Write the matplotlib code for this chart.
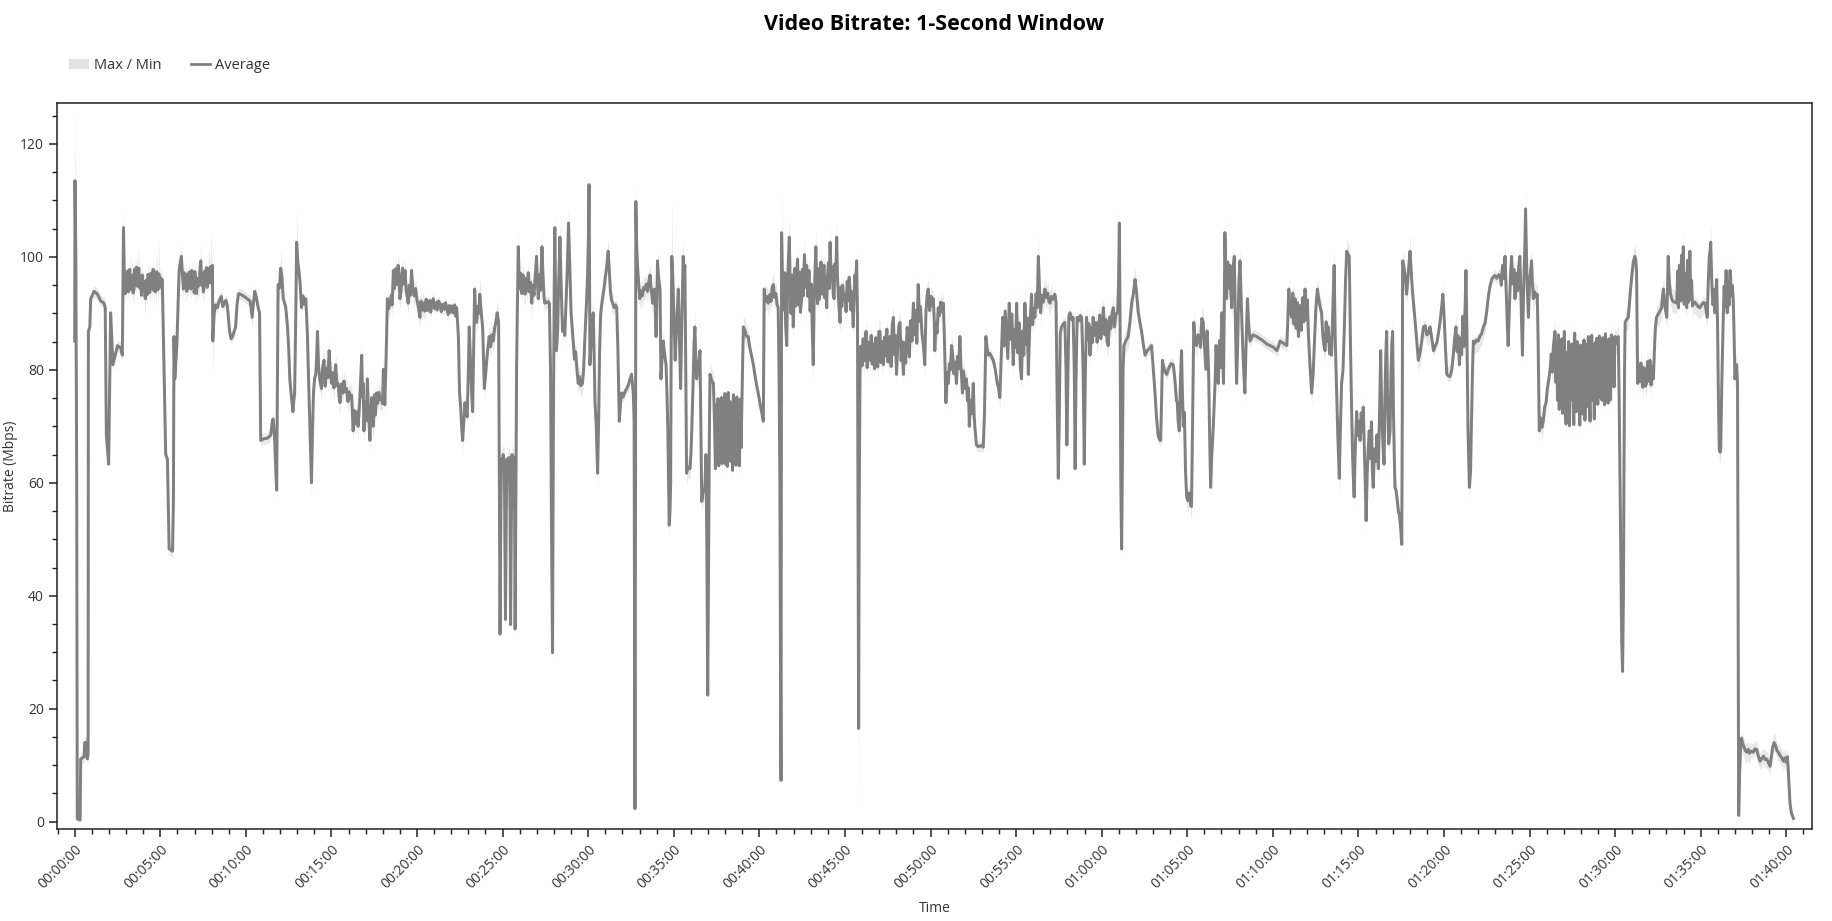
import numpy as np
import matplotlib
matplotlib.use("Agg")
import matplotlib.pyplot as plt
from matplotlib.ticker import MultipleLocator, FuncFormatter
from matplotlib.patches import Patch
from matplotlib.lines import Line2D

# ---------------- data ----------------
time_s = [
    0, 1, 4, 7, 9, 19, 21, 33, 35, 42,
    44, 47, 48, 53, 56, 68, 80, 91, 103, 107,
    111, 119, 126, 134, 140, 150, 162, 167, 171, 174,
    177, 179, 182, 185, 188, 190, 193, 196, 199, 202,
    205, 208, 211, 214, 217, 220, 223, 225, 228, 231,
    234, 237, 240, 243, 246, 248, 251, 254, 257, 260,
    263, 266, 269, 272, 275, 278, 281, 284, 287, 289,
    292, 295, 298, 301, 304, 307, 313, 319, 325, 331,
    343, 346, 348, 351, 358, 362, 366, 370, 374, 378,
    381, 384, 387, 390, 393, 395, 398, 401, 404, 407,
    410, 413, 416, 419, 421, 424, 427, 430, 433, 436,
    439, 442, 445, 448, 451, 453, 456, 459, 462, 465,
    468, 471, 474, 477, 480, 483, 484, 489, 494, 500,
    507, 514, 519, 524, 530, 535, 543, 548, 553, 559,
    564, 569, 574, 584, 594, 604, 615, 622, 627, 631,
    637, 643, 648, 652, 663, 675, 687, 692, 695, 698,
    701, 705, 708, 711, 713, 718, 722, 726, 731, 736,
    740, 746, 750, 754, 760, 765, 768, 771, 775, 778,
    782, 786, 790, 795, 800, 805, 810, 813, 816, 820,
    825, 830, 834, 837, 841, 845, 848, 851, 855, 859,
    865, 869, 874, 878, 882, 887, 892, 896, 900, 904,
    909, 915, 919, 923, 927, 930, 935, 941, 944, 948,
    953, 958, 962, 966, 971, 976, 980, 985, 990, 994,
    998, 1002, 1006, 1009, 1011, 1014, 1018, 1022, 1026, 1030,
    1035, 1038, 1041, 1044, 1047, 1051, 1054, 1058, 1062, 1066,
    1071, 1076, 1079, 1082, 1085, 1087, 1090, 1093, 1096, 1100,
    1105, 1110, 1113, 1117, 1121, 1125, 1129, 1134, 1137, 1140,
    1144, 1149, 1153, 1158, 1162, 1166, 1169, 1173, 1177, 1181,
    1185, 1190, 1195, 1199, 1204, 1210, 1214, 1218, 1222, 1227,
    1232, 1236, 1239, 1244, 1248, 1253, 1257, 1262, 1267, 1271,
    1275, 1280, 1285, 1290, 1295, 1300, 1304, 1309, 1313, 1318,
    1322, 1327, 1332, 1336, 1339, 1342, 1345, 1349, 1353, 1356,
    1360, 1364, 1368, 1372, 1376, 1380, 1383, 1387, 1391, 1395,
    1399, 1402, 1405, 1409, 1413, 1417, 1420, 1425, 1430, 1433,
    1436, 1440, 1445, 1449, 1453, 1458, 1462, 1467, 1472, 1477,
    1481, 1486, 1491, 1494, 1496, 1499, 1502, 1506, 1510, 1513,
    1516, 1520, 1523, 1525, 1528, 1531, 1533, 1536, 1539, 1541,
    1544, 1547, 1549, 1552, 1555, 1558, 1561, 1564, 1568, 1572,
    1575, 1579, 1582, 1586, 1590, 1594, 1598, 1602, 1606, 1610,
    1614, 1619, 1622, 1625, 1629, 1633, 1638, 1641, 1645, 1648,
    1652, 1656, 1660, 1664, 1668, 1671, 1675, 1678, 1681, 1683,
    1686, 1689, 1693, 1697, 1701, 1705, 1710, 1714, 1718, 1722,
    1727, 1731, 1735, 1740, 1744, 1748, 1752, 1756, 1761, 1765,
    1769, 1774, 1780, 1784, 1788, 1794, 1798, 1801, 1803, 1805,
    1806, 1810, 1814, 1818, 1821, 1824, 1828, 1833, 1837, 1840,
    1844, 1849, 1855, 1860, 1865, 1870, 1874, 1878, 1882, 1886,
    1891, 1896, 1900, 1904, 1909, 1913, 1917, 1922, 1928, 1935,
    1940, 1946, 1952, 1955, 1958, 1961, 1964, 1966, 1967, 1970,
    1973, 1976, 1981, 1986, 1990, 1995, 1999, 2004, 2008, 2013,
    2017, 2021, 2026, 2029, 2032, 2035, 2038, 2041, 2043, 2047,
    2052, 2055, 2059, 2063, 2068, 2073, 2076, 2079, 2082, 2084,
    2087, 2089, 2091, 2093, 2096, 2098, 2101, 2105, 2110, 2116,
    2120, 2124, 2128, 2133, 2136, 2139, 2142, 2145, 2150, 2157,
    2160, 2163, 2168, 2171, 2174, 2177, 2180, 2186, 2192, 2195,
    2198, 2203, 2209, 2213, 2216, 2219, 2222, 2225, 2227, 2233,
    2239, 2243, 2246, 2249, 2252, 2255, 2258, 2261, 2264, 2267,
    2270, 2273, 2276, 2279, 2282, 2285, 2288, 2291, 2294, 2297,
    2300, 2303, 2306, 2309, 2312, 2315, 2318, 2321, 2324, 2327,
    2330, 2333, 2336, 2338, 2341, 2344, 2350, 2355, 2361, 2366,
    2372, 2379, 2385, 2390, 2396, 2403, 2409, 2414, 2417, 2421,
    2426, 2431, 2436, 2441, 2445, 2449, 2453, 2458, 2462, 2466,
    2469, 2472, 2474, 2476, 2477, 2478, 2481, 2484, 2486, 2489,
    2492, 2496, 2499, 2502, 2505, 2508, 2511, 2515, 2519, 2522,
    2525, 2528, 2531, 2534, 2537, 2541, 2544, 2548, 2551, 2554,
    2558, 2562, 2566, 2570, 2574, 2578, 2582, 2586, 2589, 2592,
    2595, 2598, 2601, 2604, 2607, 2610, 2613, 2616, 2620, 2623,
    2627, 2630, 2633, 2636, 2639, 2642, 2645, 2648, 2651, 2655,
    2659, 2662, 2665, 2668, 2671, 2674, 2677, 2680, 2683, 2686,
    2689, 2692, 2696, 2700, 2704, 2708, 2712, 2715, 2718, 2721,
    2725, 2729, 2732, 2735, 2738, 2741, 2744, 2746, 2748, 2750,
    2753, 2756, 2760, 2764, 2767, 2770, 2774, 2778, 2781, 2785,
    2788, 2792, 2796, 2800, 2804, 2808, 2811, 2815, 2819, 2823,
    2826, 2830, 2835, 2839, 2843, 2847, 2851, 2855, 2858, 2862,
    2866, 2870, 2873, 2877, 2881, 2885, 2889, 2893, 2897, 2901,
    2905, 2909, 2913, 2918, 2922, 2926, 2930, 2935, 2940, 2944,
    2948, 2952, 2957, 2961, 2965, 2970, 2975, 2980, 2984, 2988,
    2992, 2997, 3002, 3006, 3010, 3013, 3015, 3019, 3023, 3027,
    3031, 3036, 3040, 3045, 3049, 3052, 3054, 3058, 3062, 3066,
    3070, 3074, 3078, 3082, 3087, 3091, 3095, 3099, 3103, 3107,
    3112, 3116, 3121, 3126, 3130, 3133, 3136, 3140, 3145, 3150,
    3153, 3156, 3161, 3167, 3173, 3179, 3185, 3189, 3194, 3198,
    3202, 3208, 3214, 3220, 3227, 3234, 3238, 3243, 3248, 3253,
    3257, 3262, 3267, 3271, 3276, 3280, 3285, 3290, 3294, 3298,
    3302, 3306, 3311, 3315, 3319, 3323, 3327, 3331, 3335, 3339,
    3343, 3347, 3351, 3354, 3358, 3362, 3366, 3370, 3374, 3378,
    3382, 3386, 3390, 3395, 3401, 3406, 3411, 3415, 3419, 3424,
    3430, 3436, 3440, 3444, 3448, 3451, 3455, 3459, 3465, 3471,
    3475, 3478, 3482, 3485, 3489, 3495, 3500, 3504, 3507, 3510,
    3514, 3520, 3525, 3530, 3535, 3539, 3543, 3547, 3551, 3555,
    3559, 3563, 3567, 3570, 3575, 3580, 3584, 3588, 3593, 3597,
    3602, 3606, 3611, 3615, 3619, 3623, 3628, 3632, 3637, 3641,
    3645, 3650, 3656, 3659, 3662, 3665, 3667, 3670, 3673, 3675,
    3678, 3685, 3693, 3699, 3705, 3711, 3717, 3722, 3728, 3734,
    3740, 3746, 3752, 3760, 3768, 3775, 3781, 3787, 3792, 3798,
    3803, 3807, 3810, 3813, 3818, 3823, 3828, 3835, 3843, 3851,
    3857, 3862, 3865, 3868, 3872, 3876, 3880, 3883, 3886, 3890,
    3894, 3898, 3903, 3908, 3912, 3915, 3919, 3923, 3928, 3933,
    3938, 3942, 3947, 3951, 3956, 3960, 3965, 3970, 3975, 3979,
    3982, 3986, 3989, 3993, 3998, 4001, 4005, 4009, 4013, 4017,
    4021, 4024, 4027, 4030, 4032, 4035, 4038, 4042, 4046, 4050,
    4053, 4056, 4060, 4065, 4069, 4073, 4077, 4081, 4085, 4088,
    4091, 4096, 4102, 4106, 4111, 4115, 4120, 4130, 4143, 4155,
    4167, 4178, 4190, 4202, 4214, 4220, 4225, 4237, 4249, 4252,
    4256, 4260, 4266, 4270, 4274, 4278, 4282, 4286, 4290, 4295,
    4300, 4305, 4309, 4313, 4317, 4321, 4325, 4330, 4336, 4341,
    4346, 4351, 4356, 4361, 4366, 4371, 4375, 4379, 4383, 4387,
    4391, 4395, 4399, 4403, 4406, 4410, 4415, 4419, 4424, 4428,
    4433, 4437, 4441, 4446, 4451, 4455, 4459, 4463, 4468, 4472,
    4476, 4480, 4485, 4489, 4494, 4499, 4503, 4506, 4510, 4514,
    4517, 4521, 4524, 4527, 4531, 4535, 4538, 4542, 4546, 4549,
    4552, 4556, 4561, 4565, 4570, 4574, 4578, 4582, 4586, 4590,
    4593, 4596, 4599, 4602, 4606, 4611, 4614, 4617, 4620, 4623,
    4626, 4628, 4632, 4636, 4640, 4644, 4648, 4652, 4654, 4655,
    4660, 4664, 4669, 4673, 4677, 4681, 4685, 4689, 4693, 4698,
    4704, 4710, 4716, 4722, 4728, 4734, 4740, 4746, 4751, 4757,
    4763, 4769, 4775, 4780, 4786, 4791, 4796, 4800, 4805, 4810,
    4816, 4821, 4827, 4832, 4837, 4842, 4846, 4850, 4854, 4858,
    4862, 4866, 4870, 4874, 4877, 4880, 4884, 4889, 4893, 4897,
    4900, 4903, 4908, 4914, 4920, 4926, 4932, 4938, 4944, 4950,
    4956, 4962, 4967, 4972, 4978, 4985, 4991, 4997, 5001, 5005,
    5009, 5014, 5018, 5022, 5025, 5029, 5033, 5037, 5041, 5045,
    5049, 5053, 5058, 5062, 5066, 5070, 5073, 5075, 5079, 5083,
    5086, 5090, 5093, 5096, 5100, 5104, 5107, 5110, 5113, 5118,
    5123, 5127, 5130, 5134, 5138, 5143, 5148, 5153, 5158, 5162,
    5167, 5172, 5176, 5180, 5184, 5189, 5192, 5195, 5198, 5201,
    5204, 5207, 5210, 5213, 5216, 5219, 5222, 5225, 5228, 5231,
    5234, 5237, 5240, 5243, 5246, 5249, 5252, 5255, 5258, 5261,
    5264, 5267, 5270, 5273, 5276, 5279, 5282, 5285, 5288, 5291,
    5294, 5297, 5300, 5303, 5306, 5309, 5312, 5315, 5318, 5321,
    5324, 5327, 5330, 5333, 5336, 5339, 5342, 5345, 5348, 5351,
    5354, 5357, 5360, 5363, 5366, 5369, 5372, 5375, 5378, 5381,
    5384, 5387, 5390, 5393, 5396, 5399, 5403, 5407, 5411, 5414,
    5417, 5420, 5423, 5426, 5429, 5431, 5433, 5435, 5440, 5446,
    5450, 5454, 5459, 5464, 5469, 5472, 5475, 5477, 5479, 5483,
    5487, 5490, 5493, 5497, 5501, 5506, 5510, 5514, 5518, 5522,
    5526, 5530, 5534, 5538, 5541, 5545, 5550, 5556, 5563, 5566,
    5569, 5575, 5581, 5584, 5586, 5590, 5594, 5598, 5603, 5609,
    5616, 5619, 5622, 5625, 5627, 5630, 5633, 5636, 5639, 5642,
    5645, 5648, 5651, 5654, 5657, 5660, 5662, 5665, 5668, 5671,
    5674, 5679, 5685, 5691, 5697, 5703, 5709, 5715, 5719, 5723,
    5726, 5730, 5733, 5735, 5739, 5743, 5747, 5750, 5753, 5756,
    5759, 5762, 5765, 5768, 5770, 5774, 5779, 5782, 5786, 5789,
    5791, 5793, 5796, 5799, 5803, 5806, 5810, 5814, 5817, 5820,
    5823, 5826, 5829, 5831, 5833, 5836, 5840, 5843, 5847, 5852,
    5856, 5861, 5866, 5871, 5876, 5884, 5890, 5896, 5902, 5908,
    5914, 5920, 5926, 5931, 5937, 5943, 5948, 5952, 5957, 5962,
    5967, 5972, 5977, 5983, 5990, 5995, 6000, 6004, 6008, 6013,
    6018, 6025,
]

avg_mbps = [
    85.1, 113.5, 100, 60, 0.5, 0.3, 11.1, 11.5, 14.0, 14.0,
    11.1, 12, 86.8, 87.6, 92.6, 93.9, 93.4, 92.2, 91.8, 91.0,
    68.4, 63.3, 90.1, 80.9, 82.2, 84.3, 83.8, 82.6, 105.2, 97,
    93.5, 96.0, 94, 97.5, 93.8, 95.1, 97.8, 94.2, 96.5, 96.8,
    93.6, 94.3, 97.9, 95, 98.2, 94.8, 97.3, 98.0, 94.5, 96.4,
    93.2, 96.8, 94.1, 95.6, 92.9, 92.6, 95.9, 93.3, 96.9, 96.0,
    93.7, 97.1, 94.4, 95.5, 97.8, 94.0, 96.6, 93.8, 97.4, 96.8,
    94.2, 97.0, 94.6, 96.3, 95.2, 96.0, 80.9, 65.0, 64.2, 48.3,
    47.9, 56.7, 85.9, 78.4, 84.3, 91, 97.6, 99, 100.1, 96.5,
    94.3, 97.2, 94.8, 96.9, 93.9, 96.0, 94.5, 97.3, 95.1, 94.3,
    97.6, 94.9, 96.8, 93.6, 97.4, 96.0, 93.5, 96.2, 94.8, 95.1,
    97.7, 99.3, 95.0, 97.0, 93.8, 94.3, 97.5, 95.2, 98.1, 94.6,
    97.3, 98.0, 95.4, 98.3, 96.2, 98.5, 85.1, 90.1, 91.5, 91.0,
    92.4, 93.0, 91.2, 91.8, 92.3, 91.4, 86.8, 85.5, 85.9, 86.8,
    87.6, 91.5, 93.5, 93.3, 93.0, 92.6, 92.2, 89.3, 92, 93.9,
    92.8, 91.0, 90.1, 67.5, 67.8, 67.9, 68.4, 70.5, 71.3, 70,
    67.5, 62, 58.7, 80, 95.1, 94.5, 98, 96.8, 92.6, 91.8,
    91.0, 87.6, 84, 78.4, 75, 72.6, 74.5, 75.9, 90, 102.6,
    99, 97.6, 95.4, 91.0, 93.1, 91.6, 92.6, 89.5, 85.9, 78,
    69.2, 60.0, 70, 75.9, 78.5, 79.2, 82, 86.8, 80.5, 78.2,
    76.7, 80.4, 81.7, 77.1, 80.3, 78.6, 83.4, 79.8, 77.6, 79.5,
    76.8, 80.9, 77.2, 77.6, 75.3, 74.2, 77.5, 75.9, 78.0, 76.2,
    76.7, 74.4, 76.1, 75.0, 75.5, 69.2, 72.8, 70.4, 72.6, 70.0,
    73.5, 77.8, 82.6, 75.2, 77.6, 69.2, 74.3, 71.0, 78.4, 72.2,
    67.5, 72.1, 75.1, 70.8, 70.0, 75.6, 72.0, 75.9, 74.1, 76.0,
    74.7, 75.1, 74.0, 80.1, 77.2, 73.8, 79, 85, 92.6, 90.8,
    91.8, 93.2, 91.5, 97.6, 94.4, 97.9, 95.1, 98.5, 96.7, 92.6,
    94.0, 98.0, 95.2, 97.6, 94.1, 92.8, 91.8, 95.0, 93.2, 97.6,
    94.5, 93.1, 94.4, 92.6, 91.3, 89.3, 92.2, 90.6, 91.8, 90.4,
    92.5, 90.5, 91.0, 92.3, 90.2, 92.0, 92.6, 90.8, 91.9, 90.6,
    92.2, 91.8, 90.3, 91.6, 90.7, 91.9, 91.0, 89.8, 91.4, 90.2,
    91.3, 90.1, 91.5, 89.5, 91.0, 88.6, 85.9, 76, 73.4, 70.2,
    67.5, 71, 74.2, 72.5, 71.7, 80, 87.6, 82, 76.5, 72.6,
    85, 94.3, 90.5, 88.4, 91.2, 90, 93.4, 90.1, 87.6, 82,
    76.7, 79, 82.1, 84.2, 85.9, 84.1, 86.2, 85.1, 87.4, 88.6,
    90.1, 88.4, 33.2, 55, 64.2, 63.6, 65.0, 63.8, 35.8, 55,
    64.2, 63.5, 64.5, 63.9, 34.9, 55, 65.0, 63.7, 64.5, 64.0,
    34.1, 60, 80.1, 92, 101.8, 96.3, 94.3, 97.1, 93.5, 96.8,
    94.1, 93.4, 96.2, 94.0, 97.2, 93.8, 95.5, 91.8, 95.0, 93.2,
    96.4, 100.1, 95.5, 92.6, 96.8, 94.1, 101.8, 97.5, 93.0, 91.8,
    92.0, 91.9, 92.1, 91.8, 80, 55, 29.9, 70, 95, 105.2,
    92.5, 83.4, 87, 96.2, 103.5, 95.5, 86.8, 88.7, 86.1, 91.5,
    98.2, 106.0, 99.3, 90.1, 87.3, 84.3, 81.9, 83.2, 79.8, 77.6,
    78.8, 77.2, 77.6, 80.1, 85.2, 91.8, 97, 104, 112.8, 95,
    80.9, 84.5, 89, 90.1, 82, 74.2, 70.5, 61.7, 72, 83.3,
    90.1, 92.3, 94.3, 96.4, 98.3, 101.0, 97.7, 93.8, 92.3, 91.8,
    91.0, 91.5, 91.0, 84, 70.9, 73.7, 75.9, 75.2, 76.0, 76.7,
    77.2, 78.3, 79.2, 77.5, 75.9, 71, 2.3, 60, 109.8, 102,
    98.4, 96.0, 92.6, 94.0, 93.1, 94.6, 94.3, 95.2, 93.9, 95.7,
    96.8, 94.3, 91.8, 93.6, 94.3, 91.2, 85.9, 93, 99.3, 96.1,
    94.3, 78.4, 82.2, 85.1, 82.7, 80.9, 76, 70, 59, 52.5,
    55.1, 60, 85, 100.1, 97.2, 94.3, 88, 81.7, 88.3, 94.3,
    85, 76.7, 88, 100.1, 97.1, 98.5, 80, 61.7, 62.8, 62.5,
    65, 69.2, 78, 84.5, 87.6, 82.4, 78.4, 80.6, 83.4, 70,
    56.7, 58.4, 59.2, 65.0, 48, 22.4, 45, 70, 79.2, 78.1,
    77.6, 70.4, 62.5, 73.8, 64.1, 74.9, 63.0, 72.6, 65.2, 75.1,
    63.4, 74.2, 64.6, 75.8, 63.3, 73.1, 62.9, 76.0, 64.0, 74.4,
    63.8, 72.9, 62.2, 75.6, 64.4, 73.7, 63.1, 75.2, 64.8, 72.4,
    63.0, 74.8, 66.2, 72, 80, 87.6, 86.9, 85.9, 85.9, 84.1,
    82.6, 80.9, 78.9, 77.4, 75.9, 73.8, 72.3, 70.9, 94.3, 92.2,
    93.0, 91.8, 93.3, 92.1, 94.5, 95.1, 92.8, 93.5, 91.6, 91.0,
    80, 60, 30, 7.3, 60, 104.3, 96.1, 90.6, 92.0, 97.2,
    88.1, 84.3, 94.6, 99.8, 103.5, 95.2, 90.0, 96.8, 87.6, 93.4,
    98.0, 91.3, 96.0, 99.6, 91.5, 97.3, 90.2, 92.6, 97.8, 93.1,
    100.4, 94.6, 98.5, 93.0, 97.6, 90.4, 95.2, 86.0, 80.9, 92,
    97.0, 101.8, 96.1, 91.7, 97.9, 92.5, 94.3, 99.1, 93.4, 97.6,
    98.5, 92.7, 96.3, 91.0, 96.6, 99.0, 94.4, 102.6, 95.8, 98.3,
    93.5, 92.6, 98.8, 96.0, 103.5, 96.4, 93.0, 90.5, 88.4, 94.7,
    91.2, 95.0, 92.4, 93.4, 90.3, 95.7, 92.2, 96.4, 94.3, 90.6,
    93.8, 87.6, 92.1, 96.8, 94.6, 99.3, 90, 50, 16.5, 55,
    80.9, 84.2, 80.7, 85.5, 81.6, 83.4, 86.8, 80.4, 84.9, 82.2,
    81.7, 86.1, 81.0, 84.6, 80.2, 85.7, 84.3, 80.5, 86.8, 86.8,
    81.3, 85.0, 80.9, 85.8, 82.5, 87.2, 81.4, 84.0, 85.9, 80.6,
    88.0, 89.3, 82.7, 86.1, 79.2, 84.4, 87.9, 88.4, 81.6, 85.0,
    79.2, 84.8, 81.2, 87.5, 86.0, 82.3, 88.7, 85.1, 91.8, 86.2,
    90.5, 84.7, 95.1, 88.6, 91.2, 86.4, 84.3, 80.9, 90.2, 93.1,
    94.3, 90.5, 93.0, 91.4, 92.6, 89, 83.4, 88.4, 86.5, 91.0,
    89.6, 92.0, 90.3, 91.8, 85, 78, 74.2, 79.5, 77.6, 81.1,
    80.0, 84.3, 82.5, 79.3, 81.4, 77.6, 82.4, 80.2, 85.9, 80.6,
    75.9, 79.8, 76.7, 78.4, 74.5, 76.8, 70.0, 74.6, 72.3, 77.6,
    72, 69.5, 66.7, 66.4, 66.5, 66.6, 66.3, 72, 85.9, 84.1,
    82.6, 82.9, 82.3, 81.7, 80.1, 77.6, 76.9, 75.1, 82, 89.3,
    84.2, 90.4, 85.9, 82.0, 91.8, 85.4, 89.9, 80.9, 87.2, 84.0,
    91.8, 83.0, 88.3, 80.4, 78.4, 86.9, 82.6, 91.8, 84.5, 89.2,
    79.2, 86.5, 90.2, 93.4, 88.0, 90.8, 89.3, 93.5, 91.0, 100.1,
    94.6, 90.1, 93.2, 92.0, 94.3, 92.8, 93.6, 92.1, 91.8, 93.0,
    92.5, 93.4, 92, 75, 60.8, 70, 86.5, 87.6, 88.1, 88.4,
    80, 66.7, 80, 89.5, 90.1, 88.9, 89.3, 80, 62.5, 78,
    89.3, 88.7, 89.6, 89.3, 80, 63.3, 80, 89.3, 85.4, 88.2,
    82.6, 87.5, 84.8, 89.3, 86.1, 88.4, 84.9, 86.8, 89.7, 85.5,
    88.3, 91.0, 86.2, 88.9, 85.0, 84.3, 89.4, 87.3, 90.1, 91.0,
    87.6, 89.9, 90.1, 95, 106.0, 85, 60, 48.3, 65, 80,
    84.3, 85.2, 85.9, 88.4, 91.8, 93.5, 96.0, 93.8, 90.2, 88.4,
    86.8, 84.5, 82.6, 83.4, 83.8, 84.3, 80.2, 75.9, 71.8, 68.4,
    67.6, 67.5, 75, 81.7, 80.4, 79.6, 79.2, 80.3, 81.1, 80.9,
    78.1, 74.6, 74.2, 71, 69.2, 78, 83.4, 76, 70.0, 72.5,
    62, 57.5, 56.8, 58.2, 56.0, 55.8, 72, 88.4, 84.8, 84.3,
    86.2, 85.9, 84.0, 89.1, 88.4, 84.6, 80.1, 86.9, 79.4, 67,
    59.2, 65, 67.5, 72, 78.2, 84.3, 79.5, 77.6, 85.2, 80.4,
    90.1, 84.5, 77.6, 92, 104.3, 96.4, 92.6, 99.1, 94.5, 98.5,
    93.7, 91.0, 97.6, 100.1, 88, 77.6, 85, 95.5, 99.3, 94,
    89.3, 82, 75.9, 84, 92.6, 88.4, 85.1, 86.2, 85.9, 85.5,
    85.1, 84.6, 84.3, 84.0, 83.4, 84.2, 85.1, 84.7, 84.3, 88,
    94.3, 90.7, 89.3, 93.6, 88.1, 92.6, 87.3, 91.9, 85.9, 91.4,
    87.0, 92.8, 88.5, 94.3, 89.0, 92.4, 85.9, 81, 75.9, 79,
    85, 91, 94.3, 92.5, 91.1, 90.1, 86.2, 84.4, 83.4, 88.5,
    85.0, 87.6, 82.8, 85.7, 82.6, 90, 98.5, 85, 75.9, 68,
    60.8, 70, 77.6, 80, 88, 96, 101.0, 100.5, 100.1, 85,
    73.4, 64, 57.5, 66, 72.6, 68.4, 70.9, 67.5, 72.4, 69.1,
    73.4, 66.0, 60, 53.3, 62, 66.5, 69.2, 64.3, 70.8, 62.0,
    59.2, 66, 63.8, 68.5, 62.5, 72, 83.4, 72.1, 66.7, 63.3,
    75, 82.4, 86.8, 75.2, 66.9, 69.2, 79, 84.5, 86.8, 72,
    64.5, 59.2, 58.6, 57.0, 55.0, 54.2, 52.0, 49.1, 75, 99.3,
    98.0, 96.5, 93.4, 95.8, 98.7, 101.0, 97.5, 94.2, 91.8, 89.0,
    85.5, 81.7, 83.0, 85.1, 87.6, 87.8, 86.2, 86.5, 87.6, 85.7,
    83.4, 84.2, 84.8, 86.3, 88.4, 90.7, 93.4, 90.0, 84.0, 79.2,
    78.9, 78.8, 79.9, 82.3, 85.5, 87.6, 83.2, 86.0, 80.9, 85.6,
    82.7, 89.5, 84.1, 91.0, 97.6, 88, 70, 59.2, 62, 72,
    80, 85.1, 84.7, 85.3, 85.1, 86.0, 86.4, 87.6, 88.3, 90.5,
    93.2, 95.0, 96.0, 96.4, 96.7, 96.2, 96.8, 96.8, 95.0, 98.5,
    96.2, 100.1, 94.1, 88, 84.3, 90.5, 96.6, 100.1, 95.2, 97.8,
    92.6, 97.1, 94.0, 98.3, 100.1, 92, 86, 82.6, 94, 101,
    108.5, 98, 93, 89.3, 95.6, 97.8, 99.3, 95.5, 92.6, 93.8,
    92.9, 93.4, 85, 69.2, 71.5, 69.8, 70.9, 73.5, 74.2, 76.6,
    78.2, 80.1, 82.8, 79.6, 84.4, 86.8, 77.8, 84.9, 74.6, 86.2,
    73.0, 80.7, 76.9, 85.5, 72.3, 79.8, 86.8, 75.2, 70.4, 83.1,
    78.6, 85.0, 70.1, 81.2, 74.8, 84.6, 77.3, 70.3, 86.5, 79.7,
    72.6, 85.0, 75.4, 81.7, 70.2, 84.4, 78.0, 72.2, 83.5, 85.3,
    71.1, 79.7, 84.5, 73.5, 85.9, 76.3, 70.9, 82.4, 86.1, 74.6,
    80.7, 71.3, 84.8, 77.2, 85.6, 73.9, 80.0, 86.0, 75.1, 83.2,
    74.6, 85.7, 79.8, 73.8, 86.4, 77.0, 82.3, 74.1, 85.5, 78.8,
    74.7, 86.2, 79.1, 85.4, 77.0, 85.9, 84.6, 85.5, 85.9, 75,
    60.8, 45, 32, 26.6, 40, 62.5, 80, 88.4, 88.9, 89.3,
    91.8, 94.3, 97, 99.2, 100.1, 99.5, 97.6, 88, 77.6, 80.6,
    77.9, 81.2, 80.1, 76.9, 80.4, 77.1, 77.6, 81.5, 78.0, 81.7,
    77.3, 80.6, 78.4, 84, 87.5, 89.3, 89.8, 90.3, 91.0, 93,
    94.3, 91.0, 89.3, 95, 100.1, 95.4, 93.5, 92.6, 92.1, 92.0,
    91.8, 97.5, 91.0, 98.5, 98.5, 92.2, 100.3, 93.5, 101.8, 91.6,
    97.0, 92.3, 91.0, 99.4, 92.0, 97.8, 101.0, 92.5, 95.8, 91.3,
    91.8, 92.0, 91.6, 91.2, 91.0, 91.5, 91.9, 91.8, 90.6, 89.3,
    95, 100.1, 101.2, 102.6, 95.0, 91.5, 94.2, 90.1, 93.5, 96.0,
    88, 75, 65.9, 65.4, 65.9, 78, 89.3, 94.8, 91.2, 97.6,
    92.4, 90.1, 95.7, 91.4, 97.6, 93.1, 95.0, 92.6, 86, 78.4,
    80.2, 80.9, 77.6, 40, 1.1, 8, 13.5, 14.8, 13.8, 13.2,
    12.6, 12.3, 12.8, 12.1, 12.5, 12.3, 12.9, 12.8, 11.6, 10.7,
    11.2, 11.6, 11.0, 11.1, 10.5, 9.8, 11.6, 13.2, 14.0, 13.5,
    12.6, 12.3, 11.8, 11.4, 10.7, 11.3, 10.5, 11.5, 8, 3.2,
    1.5, 0.6,
]

# how far the per-second max sits above the average (Mbps)
max_above_avg = [
    2, 12.5, 8, 4, 1, 1, 1, 1, 1, 1,
    1, 1, 1, 1, 1, 1, 1, 1, 1, 1,
    1, 1, 2, 1, 1, 1, 1, 1, 3, 2,
    2, 2, 2, 2, 2, 2, 3, 2, 2, 3,
    2, 2, 2, 2, 3, 2, 2, 4, 2, 2,
    2, 2, 2, 2, 2, 2, 2, 2, 2, 2,
    2, 2, 2, 2, 2, 2, 2, 2, 4, 2,
    2, 6, 2, 2, 2, 2, 2, 1, 1, 1,
    1, 1, 3, 2, 4, 2, 2, 2, 2, 2,
    2, 2, 2, 2, 2, 2, 2, 2, 2, 2,
    2, 2, 2, 2, 2, 2, 2, 2, 2, 2,
    2, 3, 2, 2, 2, 2, 2, 2, 2, 2,
    2, 4, 2, 6, 2, 2, 2, 2, 1, 1,
    1, 1, 1, 1, 1, 1, 1, 1, 1, 1,
    1, 1, 1, 1, 1, 1, 1, 1, 1, 1,
    1, 1, 1, 1, 1, 1, 1, 1, 1, 1,
    1, 1, 1, 1, 2, 2, 3, 2, 2, 1,
    1, 1, 1, 1, 1, 1, 1, 1, 2, 6,
    2, 2, 2, 1, 1, 1, 1, 1, 1, 1,
    1, 1, 1, 1, 1, 1, 2, 2, 2, 2,
    2, 2, 2, 2, 2, 2, 2, 2, 2, 2,
    2, 2, 2, 2, 2, 2, 2, 2, 2, 2,
    2, 2, 2, 2, 2, 2, 2, 2, 2, 2,
    2, 2, 2, 2, 2, 2, 2, 2, 2, 2,
    2, 2, 2, 2, 2, 2, 2, 2, 2, 2,
    2, 2, 2, 2, 2, 2, 2, 2, 2, 2,
    2, 2, 2, 2, 2, 2, 2, 2, 2, 2,
    2, 2, 2, 2, 2, 2, 2, 2, 2, 2,
    2, 2, 2, 2, 2, 2, 2, 2, 2, 2,
    1, 1, 1, 1, 1, 1, 1, 1, 1, 1,
    1, 1, 1, 1, 1, 1, 1, 1, 1, 1,
    1, 1, 1, 1, 1, 1, 1, 1, 1, 1,
    1, 1, 2, 1, 1, 2, 2, 2, 2, 2,
    2, 2, 2, 2, 2, 2, 3, 2, 2, 2,
    2, 2, 2, 2, 2, 2, 2, 2, 2, 2,
    2, 2, 1, 2, 2, 2, 2, 2, 1, 2,
    2, 2, 2, 2, 1, 2, 2, 2, 2, 2,
    1, 2, 2, 2, 3, 2, 2, 2, 2, 2,
    2, 2, 2, 2, 2, 2, 2, 2, 2, 2,
    2, 3, 2, 2, 2, 2, 3, 2, 2, 2,
    1, 1, 1, 1, 1, 1, 1, 1, 2, 3,
    2, 2, 2, 2, 3, 2, 2, 2, 2, 2,
    2, 3, 2, 2, 2, 2, 2, 2, 2, 2,
    2, 2, 2, 2, 2, 2, 2, 2, 2, 2,
    2, 2, 2, 2, 2, 2, 2, 1, 2, 2,
    2, 2, 2, 2, 2, 2, 2, 2, 2, 2,
    1, 1, 1, 1, 1, 1, 1, 1, 1, 1,
    1, 1, 1, 1, 1, 1, 1, 2, 3, 2,
    2, 2, 2, 2, 2, 2, 2, 2, 2, 2,
    2, 2, 2, 2, 2, 2, 2, 2, 2, 2,
    2, 2, 2, 2, 2, 2, 2, 2, 2, 2,
    2, 2, 2, 10, 3, 2, 2, 2, 2, 2,
    2, 2, 2, 3, 2, 2, 2, 2, 2, 2,
    2, 2, 2, 2, 3, 2, 2, 2, 2, 2,
    2, 2, 2, 2, 2, 2, 2, 2, 2, 2,
    2, 2, 2, 2, 2, 2, 2, 2, 2, 2,
    2, 2, 2, 2, 2, 2, 2, 2, 2, 2,
    2, 2, 2, 2, 2, 2, 2, 2, 2, 2,
    2, 2, 2, 2, 2, 2, 2, 2, 1, 1,
    1, 1, 1, 1, 1, 1, 1, 1, 2, 2,
    2, 2, 2, 2, 2, 2, 2, 2, 2, 2,
    2, 2, 2, 2, 2, 8, 2, 2, 2, 2,
    2, 2, 2, 2, 4, 2, 2, 2, 2, 2,
    2, 2, 2, 2, 2, 2, 2, 2, 2, 2,
    3, 2, 2, 2, 2, 2, 2, 2, 2, 2,
    2, 3, 2, 2, 2, 2, 2, 2, 2, 2,
    2, 2, 2, 2, 2, 2, 2, 3, 2, 2,
    2, 2, 2, 2, 3, 2, 2, 2, 2, 2,
    2, 2, 2, 2, 2, 2, 2, 2, 2, 2,
    2, 2, 2, 2, 2, 2, 2, 2, 2, 2,
    2, 2, 2, 2, 2, 2, 2, 2, 2, 2,
    2, 2, 2, 2, 2, 2, 2, 2, 2, 2,
    2, 2, 2, 2, 2, 2, 2, 2, 2, 2,
    2, 2, 2, 2, 2, 2, 2, 2, 2, 2,
    2, 2, 2, 2, 2, 2, 2, 2, 2, 2,
    2, 2, 2, 2, 2, 2, 2, 2, 2, 2,
    2, 2, 2, 2, 2, 2, 2, 2, 2, 2,
    2, 2, 2, 2, 2, 2, 2, 2, 2, 2,
    2, 2, 2, 2, 2, 2, 2, 2, 2, 2,
    2, 2, 2, 2, 2, 2, 2, 2, 2, 2,
    1, 1, 1, 1, 1, 1, 1, 1, 2, 1,
    1, 1, 1, 1, 1, 1, 1, 1, 2, 2,
    2, 2, 2, 2, 2, 2, 2, 2, 2, 2,
    2, 2, 2, 2, 2, 2, 2, 2, 2, 2,
    2, 2, 2, 2, 2, 2, 2, 2, 2, 4,
    2, 2, 2, 2, 2, 2, 2, 2, 2, 2,
    1, 1, 1, 1, 1, 1, 1, 1, 1, 1,
    1, 1, 1, 1, 1, 1, 1, 1, 1, 1,
    1, 1, 1, 1, 1, 1, 1, 2, 2, 2,
    2, 2, 2, 2, 2, 2, 2, 2, 2, 2,
    2, 2, 2, 2, 2, 2, 2, 2, 2, 2,
    2, 2, 2, 2, 3, 2, 2, 2, 2, 2,
    2, 2, 2, 2, 2, 2, 2, 2, 2, 2,
    1, 1, 1, 1, 1, 1, 1, 1, 1, 1,
    1, 1, 1, 1, 1, 1, 1, 1, 1, 1,
    2, 2, 2, 2, 2, 2, 2, 2, 2, 2,
    2, 2, 2, 2, 2, 2, 2, 2, 2, 2,
    2, 2, 2, 2, 2, 2, 2, 2, 2, 2,
    2, 2, 2, 2, 2, 2, 2, 2, 2, 2,
    2, 2, 2, 2, 3, 2, 2, 2, 2, 2,
    2, 2, 2, 2, 2, 2, 2, 2, 2, 2,
    2, 2, 2, 2, 2, 2, 1, 1, 1, 1,
    1, 1, 1, 1, 1, 1, 1, 1, 1, 1,
    2, 2, 2, 2, 2, 2, 2, 2, 2, 2,
    2, 2, 2, 2, 2, 2, 2, 2, 2, 2,
    2, 2, 2, 2, 2, 2, 2, 2, 2, 2,
    2, 2, 2, 2, 2, 2, 3, 2, 2, 2,
    2, 2, 2, 2, 2, 2, 2, 2, 2, 2,
    2, 2, 2, 2, 2, 2, 2, 2, 2, 2,
    2, 2, 2, 2, 2, 2, 2, 2, 2, 2,
    2, 2, 2, 2, 2, 2, 2, 2, 2, 2,
    2, 2, 2, 2, 2, 2, 2, 2, 2, 2,
    2, 2, 2, 2, 2, 2, 2, 2, 2, 2,
    2, 2, 2, 2, 2, 3, 2, 2, 2, 2,
    1, 1, 1, 1, 1, 1, 1, 1, 1, 1,
    1, 1, 1, 1, 1, 1, 2, 1, 1, 1,
    2, 2, 2, 2, 2, 2, 2, 2, 2, 2,
    2, 2, 2, 2, 3, 2, 2, 2, 2, 2,
    1, 1, 1, 1, 1, 1, 1, 1, 1, 1,
    1, 1, 1, 1, 1, 1, 1, 1, 2, 2,
    2, 3, 2, 2, 2, 2, 2, 2, 2, 2,
    2, 2, 2, 2, 2, 2, 2, 2, 2, 2,
    3.5, 2, 2, 2, 2, 2, 2, 2, 2, 2,
    2, 2, 2, 2, 2, 2, 2, 2, 2, 2,
    2, 2, 2, 2, 2, 2, 2, 2, 2, 2,
    2, 2, 2, 2, 2, 2, 2, 2, 2, 2,
    2, 2, 2, 2, 2, 2, 2, 2, 2, 2,
    2, 2, 2, 2, 2, 2, 2, 2, 2, 2,
    2, 2, 2, 2, 2, 2, 2, 2, 2, 2,
    2, 2, 2, 2, 2, 2, 2, 2, 2, 2,
    2, 2, 2, 2, 2, 2, 2, 2, 2, 2,
    2, 2, 2, 2, 2, 2, 2, 2, 2, 2,
    2, 2, 2, 2, 2, 2, 2, 2, 2, 2,
    2, 2, 2, 2, 2, 2, 2, 2, 2, 2,
    2, 2, 2, 2, 2, 2, 2, 2, 2, 2,
    2, 2, 2, 2, 2, 2, 2, 2, 2, 2,
    2, 2, 2, 2, 2, 2, 2, 2, 2, 2,
    2, 2, 2, 2, 2, 2, 2, 2, 3, 2,
    2, 2, 2, 2, 2, 2, 2, 2, 2, 2,
    1, 1, 1, 1, 1, 1, 1, 1, 1, 1,
    2, 2, 2, 3, 2, 2, 2, 2, 2, 2,
    2, 2, 2, 2, 2, 2, 2, 2, 2, 2,
    2, 2, 2, 2, 2, 2, 2, 2, 2, 2,
    2, 2, 2, 2, 1, 1, 1, 1.5, 1.5, 1.5,
    1.5, 1.5, 1.5, 1.5, 1.5, 1.5, 1.5, 1.5, 1.5, 1.5,
    1.5, 1.5, 1.5, 1.5, 1.5, 1.5, 1.5, 1.5, 2, 1.5,
    1.5, 1.5, 1.5, 1.5, 1.5, 1.5, 1.5, 1.5, 1.5, 1.5,
    1, 0.5,
]

# how far the per-second min sits below the average (Mbps)
min_below_avg = [
    2, 2, 3, 2, 0.5, 0.3, 1, 1, 1, 1,
    1, 1, 2, 1, 1, 1, 1, 1, 1, 1,
    1, 1, 1, 1, 1, 1, 1, 1, 1, 2,
    2, 2, 2, 2, 2, 2, 2, 2, 2, 2,
    2, 2, 2, 2, 2, 2, 2, 2, 2, 2,
    2, 2, 2, 2, 3, 2, 2, 2, 2, 2,
    2, 2, 2, 2, 2, 3, 2, 2, 2, 2,
    2, 2, 2, 2, 2, 2, 2, 1, 1, 1,
    1, 1, 2, 2, 2, 2, 2, 2, 2, 2,
    2, 2, 3, 2, 2, 2, 2, 2, 2, 2,
    2, 2, 2, 2, 2, 2, 2, 2, 2, 2,
    2, 2, 2, 2, 2, 2, 2, 2, 2, 2,
    2, 2, 2, 2, 2, 2, 6, 2, 1, 1,
    1, 1, 1, 1, 1, 1, 1, 1, 1, 1,
    1, 1, 1, 1, 1, 1, 1, 2, 1, 1,
    1, 1, 1, 1, 1, 1, 1, 1, 1, 1,
    1, 1, 2, 1, 2, 2, 2, 2, 2, 1,
    1, 1, 1, 1, 1, 1, 1, 1, 2, 2,
    2, 2, 2, 1, 1, 1, 1, 1, 1, 1,
    1, 3, 1, 1, 1, 1, 2, 2, 2, 2,
    2, 2, 2, 2, 2, 2, 2, 2, 2, 2,
    2, 2, 2, 2, 2, 2, 2, 2, 2, 2,
    2, 2, 2, 2, 2, 2, 2, 2, 2, 2,
    2, 2, 2, 2, 2, 2, 2, 2, 2, 2,
    2, 2, 2, 2, 2, 2, 2, 2, 2, 2,
    2, 2, 2, 2, 2, 2, 2, 2, 2, 2,
    2, 2, 2, 2, 2, 2, 2, 2, 2, 2,
    2, 2, 2, 2, 2, 2, 2, 2, 2, 2,
    2, 2, 2, 2, 2, 2, 2, 2, 2, 2,
    1, 1, 1, 1, 1, 1, 1, 1, 1, 1,
    1, 1, 1, 1, 1, 1, 1, 1, 1, 1,
    1, 1, 1, 1, 1, 1, 1, 1, 1, 1,
    3, 1, 1, 1, 1, 2, 2, 2, 2, 2,
    2, 2, 2, 2, 2, 2, 2, 2, 2, 2,
    2, 2, 2, 2, 2, 2, 2, 2, 2, 2,
    2, 2, 2, 2, 2, 2, 2, 2, 2, 2,
    2, 2, 2, 2, 2, 2, 2, 2, 2, 2,
    2, 2, 2, 2, 2, 2, 2, 2, 2, 2,
    2, 2, 2, 2, 2, 2, 2, 3, 2, 2,
    2, 2, 2, 2, 2, 2, 2, 2, 2, 2,
    1, 1, 1, 1, 1, 1, 2, 1, 2, 2,
    2, 2, 2, 2, 2, 2, 2, 2, 2, 2,
    2, 2, 2, 2, 2, 2, 2, 2, 2, 2,
    2, 2, 2, 2, 2, 2, 2, 2, 2, 2,
    2, 2, 2, 2, 2, 2, 2, 3, 2, 2,
    2, 2, 2, 2, 2, 2, 2, 2, 2, 2,
    1, 1, 1, 1, 1, 1, 1, 1, 1, 1,
    1, 1, 1, 1, 1, 1, 2.3, 2, 2, 2,
    2, 2, 2, 2, 2, 2, 2, 2, 2, 2,
    2, 2, 2, 2, 2, 2, 2, 2, 2, 2,
    2, 2, 2, 2, 2, 2, 2, 2, 2, 2,
    2, 2, 2, 2, 2, 2, 2, 2, 2, 2,
    2, 2, 2, 2, 2, 2, 2, 2, 2, 2,
    2, 2, 2, 2, 2, 2, 2, 2, 2, 2,
    2, 2, 2, 2, 2, 1.5, 2, 2, 2, 2,
    2, 2, 2, 2, 2, 2, 2, 2, 2, 2,
    2, 2, 2, 2, 2, 2, 2, 2, 2, 2,
    2, 2, 2, 2, 2, 2, 2, 2, 2, 2,
    2, 2, 2, 2, 2, 2, 2, 2, 1, 1,
    1, 1, 1, 1, 1, 1, 1, 1, 2, 2,
    2, 2, 2, 2, 2, 2, 2, 2, 2, 2,
    2, 2, 2, 2, 2, 2, 2, 2, 2, 2,
    2, 2, 2, 2, 2, 2, 2, 2, 2, 2,
    2, 2, 2, 2, 2, 2, 2, 2, 2, 2,
    2, 2, 2, 2, 2, 2, 2, 2, 3, 2,
    2, 2, 2, 2, 2, 2, 2, 2, 2, 2,
    2, 2, 2, 2, 2, 2, 2, 2, 2, 2,
    2, 2, 2, 2, 2, 2, 2, 2, 2, 2,
    2, 2, 2, 2, 2, 2, 2, 2, 2, 2,
    2, 2, 2, 2, 2, 2, 2, 2, 16, 2,
    2, 2, 2, 2, 2, 2, 2, 2, 2, 2,
    2, 2, 2, 2, 2, 2, 2, 2, 2, 2,
    2, 2, 2, 2, 2, 2, 2, 2, 2, 2,
    2, 2, 2, 2, 2, 2, 2, 2, 2, 2,
    2, 2, 2, 2, 2, 2, 2, 2, 2, 2,
    2, 2, 2, 2, 2, 2, 2, 2, 2, 2,
    2, 2, 2, 2, 2, 2, 2, 2, 2, 2,
    2, 2, 2, 2, 2, 2, 2, 2, 2, 2,
    2, 2, 2, 2, 2, 2, 2, 2, 2, 2,
    2, 2, 2, 2, 2, 2, 2, 2, 2, 2,
    1, 1, 1, 1, 1, 1, 1, 1, 1, 1,
    1, 1, 1, 1, 1, 1, 1, 2, 2, 2,
    2, 2, 2, 2, 2, 2, 2, 2, 2, 2,
    2, 2, 2, 2, 2, 2, 2, 2, 2, 2,
    2, 2, 2, 2, 2, 2, 2, 2, 2, 2,
    2, 2, 2, 2, 2, 2, 2, 2, 2, 2,
    1, 1, 1, 1, 2, 1, 1, 1, 1, 1,
    1, 1, 1, 1, 1, 1, 1, 1, 1, 1,
    1, 1, 1, 1, 1, 2, 1, 2, 2, 2,
    2, 2, 2, 2, 2, 2, 2, 2, 2, 2,
    2, 2, 2, 2, 2, 2, 2, 2, 2, 2,
    2, 2, 2, 2, 2, 2, 2, 2, 2, 2,
    2, 2, 2, 2, 2, 2, 2, 2, 2, 2,
    1, 1, 1, 1, 1, 1, 1, 1, 1, 1,
    1, 1, 1, 1, 1, 1, 1, 1, 1, 1,
    2, 2, 2, 2, 2, 2, 2, 2, 2, 2,
    2, 2, 2, 2, 2, 2, 2, 2, 2, 2,
    2, 2, 2, 2, 2, 2, 2, 2, 2, 2,
    2, 2, 2, 2, 2, 2, 2, 2, 2, 2,
    2, 2, 2, 2, 2, 2, 2, 2, 2, 2,
    2, 2, 2, 2, 2, 2, 2, 2, 2, 2,
    2, 2, 2, 2, 2, 2, 1, 1, 1, 1,
    1, 1, 1, 1, 1, 1, 1, 1, 1, 1,
    2, 2, 2, 2, 2, 2, 2, 2, 2, 2,
    2, 2, 2, 2, 2, 2, 2, 2, 2, 2,
    2, 2, 2, 2, 2, 2, 2, 2, 2, 2,
    2, 2, 2, 2, 2, 2, 2, 2, 2, 2,
    3, 2, 2, 2, 2, 2, 2, 2, 2, 2,
    2, 2, 2, 2, 2, 2, 2, 2, 2, 2,
    2, 2, 2, 2, 2, 2, 2, 2, 2, 2,
    2, 2, 2, 2, 2, 2, 2, 2, 2, 2,
    2, 2, 2, 2, 2, 2, 2, 2, 2, 2,
    2, 2, 2, 2, 2, 2, 2, 2, 2, 2,
    2, 2, 2, 2, 2, 2, 2, 3, 2, 2,
    2, 2, 2, 2, 2, 2, 2, 2, 2, 2,
    1, 1, 1, 1, 1, 1, 1, 1, 1, 1,
    1, 1, 1, 1, 1, 1, 1, 1, 1, 1,
    2, 2, 2, 2, 2, 2, 2, 2, 2, 2,
    2, 2, 2, 2, 2, 2, 2, 2, 2, 2,
    1, 1, 1, 1, 1, 1, 1, 1, 1, 1,
    1, 1, 1, 1, 1, 1, 1, 1, 2, 2,
    2, 2, 2, 2, 2, 2, 2, 2, 2, 2,
    2, 2, 2, 2, 2, 2, 2, 5, 2, 2,
    2, 2, 2, 2, 2, 2, 2, 2, 2, 2,
    2, 2, 2, 3, 2, 2, 2, 2, 2, 2,
    2, 2, 2, 2, 2, 2, 2, 2, 2, 2,
    2, 2, 2, 2, 2, 2, 2, 2, 2, 2,
    2, 2, 2, 2, 2, 2, 2, 2, 2, 2,
    2, 2, 2, 2, 2, 2, 2, 2, 2, 2,
    2, 2, 2, 2, 2, 2, 2, 2, 2, 2,
    2, 2, 2, 2, 2, 2, 2, 2, 2, 2,
    2, 2, 2, 2, 2, 2, 2, 2, 2, 2,
    2, 2, 2, 2, 2, 2, 2, 2, 2, 2,
    2, 2, 2, 2.5, 2, 2, 2, 2, 2, 2,
    2, 2, 2, 2, 2, 2, 2, 2, 2, 2,
    2, 2, 2, 2, 2, 2, 2, 2, 2, 2,
    2, 2, 2, 2, 2, 2, 2, 2, 2, 2,
    2, 2, 2, 2, 2, 2, 2, 2, 2, 2,
    2, 2, 2, 2, 2, 2, 2, 2, 2, 2,
    2, 2, 2, 2, 2, 2, 2, 2, 2, 2,
    1, 1, 1, 1, 1, 1, 1, 1, 1, 1,
    2, 2, 2, 2, 2, 2, 2, 2, 2, 2,
    2, 2, 2, 2, 2, 2, 2, 2, 2, 2,
    2, 2, 2, 2, 2, 2, 2, 2, 2, 2,
    2, 2, 2, 2, 1.1, 1, 1, 1.5, 1.5, 1.5,
    1.5, 1.5, 1.5, 1.5, 1.5, 1.5, 1.5, 1.5, 1.5, 1.5,
    1.5, 1.5, 1.5, 1.5, 1.5, 1.5, 1.5, 1.5, 1.5, 1.5,
    1.5, 1.5, 1.5, 1.5, 1.5, 1.5, 1.5, 1.5, 1.5, 1.5,
    1, 0.5,
]

title_text = "Video Bitrate: 1-Second Window"
x_label = "Time"
y_label = "Bitrate (Mbps)"
legend_labels = ["Max / Min", "Average"]

# ---------------- figure ----------------
plt.rcParams['font.family'] = ['Open Sans', 'DejaVu Sans']

n = min(len(time_s), len(avg_mbps), len(max_above_avg), len(min_below_avg))
t = np.asarray(time_s[:n], dtype=float)
avg = np.asarray(avg_mbps[:n], dtype=float)
vmax = avg + np.asarray(max_above_avg[:n], dtype=float)
vmin = np.clip(avg - np.asarray(min_below_avg[:n], dtype=float), 0, None)

W, H = 1833, 921
AX_L, AX_R, AX_T, AX_B = 57.3, 1811.7, 103.3, 829.0
fig = plt.figure(figsize=(W / 100, H / 100), dpi=100)
ax = fig.add_axes([AX_L / W, 1 - AX_B / H, (AX_R - AX_L) / W, (AX_B - AX_T) / H])

band_color = '#e9e9e9'
line_color = '#808080'
ax.fill_between(t, vmin, vmax, color=band_color, linewidth=0, zorder=1)
ax.plot(t, avg, color=line_color, linewidth=2.15, zorder=2)

ax.set_xlim(-61, 6089)
ax.set_ylim(-1.3, 127.2)

def hms(s, pos=None):
    s = int(round(s))
    return f"{s // 3600:02d}:{(s % 3600) // 60:02d}:{s % 60:02d}"

ax.xaxis.set_major_locator(MultipleLocator(300))
ax.xaxis.set_minor_locator(MultipleLocator(60))
ax.xaxis.set_major_formatter(FuncFormatter(hms))
ax.yaxis.set_major_locator(MultipleLocator(20))
ax.yaxis.set_minor_locator(MultipleLocator(5))

tick_color = '#333333'
ax.tick_params(axis='both', which='major', length=6, width=1.1, color='#222222',
               labelsize=10, labelcolor=tick_color)
ax.tick_params(axis='both', which='minor', length=3.3, width=1.0, color='#222222')
for lab in ax.get_xticklabels():
    lab.set_rotation(45)
    lab.set_ha('right')
    lab.set_va('top')
    lab.set_rotation_mode('anchor')

for sp in ax.spines.values():
    sp.set_linewidth(1.1)
    sp.set_color('#222222')

ax.set_xlabel(x_label, fontsize=10, color=tick_color)
ax.set_ylabel(y_label, fontsize=10, color=tick_color)
ax.xaxis.set_label_coords(0.5, (AX_B - 901) / (AX_B - AX_T))
ax.yaxis.set_label_coords((18 - AX_L) / (AX_R - AX_L), 0.5)

fig.text(0.5 * (AX_L + AX_R) / W, 1 - 25 / H, title_text, ha='center', va='center',
         fontsize=15.5, fontweight='bold', color='#000000')

handles = [Patch(facecolor='#e3e3e3', edgecolor='none'),
           Line2D([0], [0], color=line_color, linewidth=2.0)]
fig.legend(handles, legend_labels, loc='center left', bbox_to_anchor=(56 / W, 1 - 65.5 / H),
           ncol=2, frameon=False, fontsize=10.5, handlelength=1.35, handletextpad=0.35,
           columnspacing=2.0, labelcolor='#333333')

fig.savefig('out.png', dpi=100)
